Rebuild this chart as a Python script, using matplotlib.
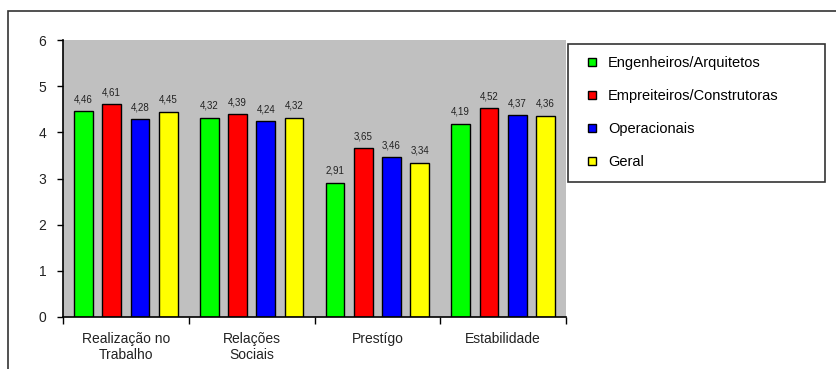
import numpy as np
import matplotlib
matplotlib.use('Agg')
import matplotlib.pyplot as plt
from matplotlib.patches import Rectangle
from matplotlib.lines import Line2D

matplotlib.rcParams['font.family'] = 'Liberation Sans'

categories = ['Realização no\nTrabalho', 'Relações\nSociais', 'Prestígo', 'Estabilidade']
series = ['Engenheiros/Arquitetos', 'Empreiteiros/Construtoras', 'Operacionais', 'Geral']
colors = ['#00ff00', '#ff0000', '#0000ff', '#ffff00']
eng = [4.46, 4.32, 2.91, 4.19]
emp = [4.61, 4.39, 3.65, 4.52]
ope = [4.28, 4.24, 3.46, 4.37]
ger = [4.45, 4.32, 3.34, 4.36]
values = [eng, emp, ope, ger]

fig = plt.figure(figsize=(8.36, 3.69), dpi=100)

# outer chart frame
fig.patches.append(Rectangle((8/836, -0.1), 1.0, 1 - 11/369 + 0.1, transform=fig.transFigure,
                             fill=False, edgecolor='#333333', linewidth=1.2))

ax = fig.add_axes([63/836, 52/369, 503/836, 277/369])
ax.set_facecolor('#c0c0c0')

x = np.arange(len(categories))
width = 0.15
step = 0.225
for i, (vals, col, name) in enumerate(zip(values, colors, series)):
    pos = x + (i - 1.5) * step
    ax.bar(pos, vals, width, color=col, edgecolor='black', linewidth=1.0, label=name)
    for p, v in zip(pos, vals):
        ax.text(p, v + 0.15, f'{v:.2f}'.replace('.', ','), ha='center', va='bottom',
                fontsize=7, color='#222222')

ax.set_xlim(-0.5, len(categories) - 0.5)
ax.set_ylim(0, 6)
ax.set_yticks(range(7))
ax.set_xticks(x)
ax.set_xticklabels(categories, fontsize=10, color='#222222')
ax.tick_params(axis='x', length=0, pad=11)
ax.set_xticks(np.arange(-0.5, len(categories)), minor=True)
ax.tick_params(axis='x', which='minor', length=5, width=1)
ax.tick_params(axis='y', length=4, width=1, labelsize=10, labelcolor='#222222', pad=8)
for s in ['top', 'right']:
    ax.spines[s].set_visible(False)
ax.spines['left'].set_linewidth(1.2)
ax.spines['bottom'].set_linewidth(1.2)

handles = [Line2D([], [], marker='s', linestyle='none', markersize=6, markerfacecolor=c,
                  markeredgecolor='black', markeredgewidth=1.0) for c in colors]
leg = fig.legend(handles, series, loc='upper left', mode='expand',
                 bbox_to_anchor=(568/836, 1 - 44/369, 257/836, 0),
                 frameon=True, fancybox=False, edgecolor='black', fontsize=10.5,
                 labelspacing=1.3, handletextpad=0.3, borderpad=0.85, borderaxespad=0,
                 handlelength=1.6)
leg.get_frame().set_linewidth(1.2)

fig.savefig('out.png', dpi=100)
